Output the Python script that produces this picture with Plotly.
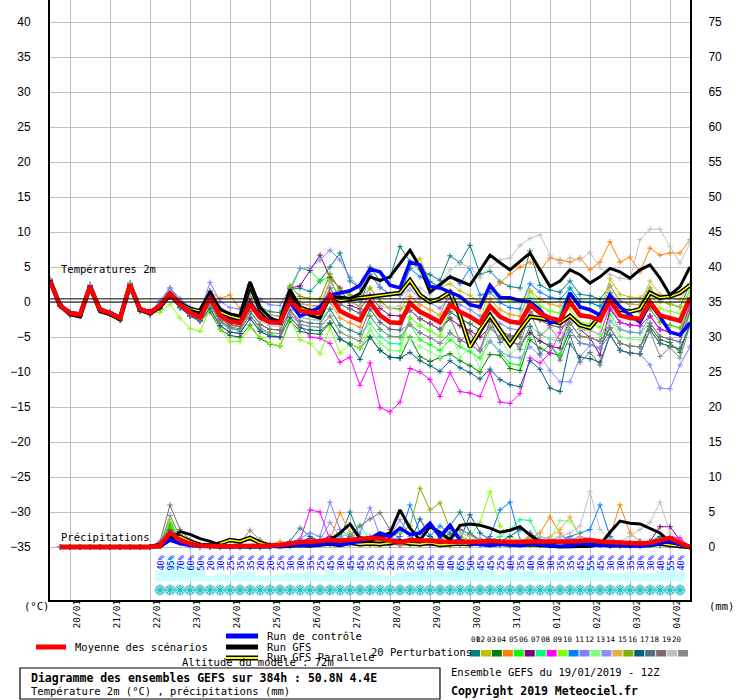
import plotly.graph_objects as go

# ---------------- data ----------------
HOURS = list(range(0, 385, 6))          # hours after 19/01/2019 12Z
DAY_HOURS = list(range(12, 373, 24))    # 00Z of each day
DAY_LABELS = ["20/01", "21/01", "22/01", "23/01", "24/01", "25/01", "26/01", "27/01",
              "28/01", "29/01", "30/01", "31/01", "01/02", "02/02", "03/02", "04/02"]

T_MEAN = [3.0,-0.5,-1.6,-1.8, 2.2,-1.1,-1.6,-2.3, 2.5,-1.0,-1.5,-0.5, 1.2,-0.3,-1.5,-2.2, 0.6,-1.9,-2.8,-3.0,
          -0.3,-2.2,-2.9,-3.0, 0.3,-1.2,-1.5,-1.6, 1.0,-1.3,-2.0,-2.6, 0.0,-1.9,-2.9,-3.0, -0.2,-1.4,-2.1,-2.9,
          -0.4,-1.4,-2.1,-3.0, -0.6,-2.1,-2.8,-3.0, -0.4,-1.6,-2.3,-2.6, 0.0,-1.9,-2.1,-2.6, 0.3,-1.9,-2.3,-2.4,
          0.0,-1.9,-2.3,-2.7, 0.6]
T_CTRL = [3.1,-0.4,-1.5,-1.7, 2.3,-1.0,-1.5,-2.2, 2.5,-1.0,-1.4,-0.6, 1.2,-0.2,-1.4,-2.1, 0.8,-1.8,-2.6,-2.9,
          0.0,-2.0,-2.7,-2.9, 0.0,-2.0,-1.5,-0.7, 1.0,1.3,1.6,2.4, 4.7,4.3,2.4,2.0, 5.7,5.3,2.2,2.0,
          1.4,0.8,-0.4,-0.7, 2.4,0.6,0.6,0.2, 0.0,-1.1,-3.0,-2.6, 1.3,-0.7,-1.1,-1.9, 1.0,-0.7,-1.9,-2.9,
          -0.2,-2.1,-4.3,-4.7, -3.0]
T_GFS = [3.0,-0.6,-1.8,-2.1, 2.1,-1.4,-1.8,-2.5, 2.4,-1.2,-1.3,-0.8, 1.0,-0.5,-1.2,-1.6, 1.5,-1.0,-1.7,-2.0,
         2.9,-0.8,-2.2,-3.0, 1.8,-1.1,-1.9,-2.3, 0.7,0.7,0.5,1.2, 3.6,3.1,3.6,5.5, 7.4,5.0,1.4,2.5,
         3.6,3.0,2.4,4.5, 6.7,5.6,4.6,5.8, 7.0,4.6,2.2,3.0, 4.6,3.9,2.7,3.6, 4.8,4.3,3.4,4.6,
         5.3,3.4,1.0,2.2, 5.0]
T_PARA = [3.1,-0.5,-1.7,-2.0, 2.2,-1.2,-1.7,-2.4, 2.4,-1.1,-1.6,-0.7, 1.1,-0.2,-1.0,-1.3, 1.2,-1.4,-2.0,-2.4,
          2.6,-1.0,-2.5,-2.9, 1.5,-0.8,-1.3,-1.2, 0.9,0.2,0.4,0.6, 0.8,0.9,1.1,1.3, 3.1,1.0,0.0,0.5,
          1.4,-2.0,-6.4,-4.0, -1.9,-4.0,-6.1,-4.0, -2.1,-2.3,-2.6,-3.0, -2.0,-3.3,-3.7,-2.0, 0.7,-1.1,-1.4,-1.0,
          1.3,0.6,0.8,1.3, 2.4]

T_P01 = [3.2,-0.3,-1.4,-1.7, 2.4,-1.0,-1.4,-2.2, 2.6,-1.0,-1.4,-0.2, 2.0,0.2,-1.0,-1.7, 1.6,-0.9,-1.8,-2.0,
         1.5,-0.7,-1.4,-1.5, 1.8,2.0,1.5,3.0, 5.0,7.0,3.0,2.0, 5.0,3.0,3.5,7.9, 5.8,4.6,3.9,3.1,
         6.6,5.6,8.1,4.0, 4.4,2.9,2.2,2.0, 7.3,2.4,1.7,1.4, 3.0,1.1,0.9,0.4, 2.3,0.1,-0.3,-0.4, 2.0,0.1,-0.3,-0.7, 2.6]
T_P02 = [3.1,-0.5,-1.7,-1.9, 2.1,-1.2,-1.7,-2.5, 2.3,-1.2,-1.6,-0.6, 1.1,-0.3,-1.6,-2.3, 1.1,-1.4,-2.3,-2.5,
         0.7,-1.2,-1.9,-2.0, 2.3,0.8,0.5,0.4, 4.0,1.7,1.0,0.4, 4.0,2.1,1.1,1.0, 4.8,6.2,2.9,2.1,
         2.6,1.6,0.9,0.0, 0.4,-1.1,-1.8,-2.0, 1.6,0.4,-0.3,-0.6, 1.0,-0.9,-1.1,-1.6, 3.3,1.1,0.7,0.6, 2.0,0.1,-0.3,-0.7, 1.6]
T_P03 = [3.0,-0.6,-1.8,-2.0, 2.2,-1.1,-1.6,-2.6, 2.4,-1.3,-1.8,-1.0, 0.7,-0.8,-2.0,-2.7, -1.4,-3.9,-4.8,-5.0,
         -3.3,-5.2,-6.0,-6.3, -2.7,-4.2,-4.5,-4.6, -3.0,-5.3,-6.0,-6.6, -5.0,-6.9,-7.9,-8.0, -5.0,-7.8,-8.5,-8.0,
         -7.4,-8.4,-9.1,-10.0, -7.5,-7.6,-9.5,-9.8, -5.4,-6.6,-7.3,-7.6, -4.0,-5.9,-6.1,-6.6, -3.7,-5.9,-6.3,-6.4,
         -3.5,-5.4,-5.8,-7.2, -3.0]
T_P04 = [3.3,-0.4,-1.5,-1.8, 2.5,-0.9,-1.5,-2.4, 2.7,-0.9,-1.5,-0.3, 1.7,0.2,-1.0,-1.7, 1.5,0.5,1.0,-1.0,
         0.7,-1.2,-1.9,-2.0, 0.3,-1.2,-1.5,-1.6, 0.0,-2.3,-3.0,-3.6, 0.0,-1.9,-2.9,-3.0, 0.8,-0.4,-1.1,-1.9,
         1.6,0.6,-0.1,-1.0, 1.5,2.7,4.0,5.0, 5.7,4.5,6.3,6.0, 5.7,6.3,4.6,5.7, 8.6,5.7,6.4,4.3, 7.7,6.7,7.0,7.0, 8.9]
T_P05 = [3.2,-0.3,-1.4,-1.7, 2.4,-1.0,-1.4,-2.2, 2.6,-1.0,-1.4,-0.4, 1.3,-0.2,-1.6,-2.0, -0.2,-2.8,-3.6,-4.2,
         -1.8,-3.9,-4.6,-5.0, 1.5,4.8,4.5,3.0, 3.6,-0.3,-1.0,-1.6, -2.0,-3.9,-4.9,-5.0, -3.2,-5.4,-6.1,-6.9,
         -5.4,-6.4,-7.1,-8.0, -5.6,-7.1,-8.8,-9.0, -4.4,-5.6,-6.3,-7.6, -3.0,-4.9,-5.1,-5.6, -1.7,-3.9,-4.3,-4.4,
         -2.0,-3.9,-4.3,-4.7, -1.4]
T_P06 = [3.1,-0.5,-1.7,-1.9, 2.1,-1.2,-1.7,-2.5, 2.3,-1.2,-1.6,-0.4, 1.5,0.0,-1.2,-1.9, 0.1,-2.4,-3.3,-3.5,
         0.2,-1.7,-2.4,-2.5, 2.0,2.3,4.5,6.7, 3.5,2.0,-0.5,-1.0, 1.0,-0.9,-1.9,-2.0, -1.2,-2.4,-3.1,-3.9,
         -2.4,-3.4,-4.1,-5.0, -3.6,-5.1,-5.8,-6.0, -4.4,-5.6,-6.3,-6.6, -2.0,-3.9,-5.1,-7.6, -1.0,-2.9,-3.3,-3.4,
         -2.0,-3.9,-4.3,-4.7, -0.4]
T_P07 = [3.3,-0.4,-1.5,-1.8, 2.5,-0.9,-1.5,-2.4, 2.7,-0.9,-1.5,-0.7, 0.7,-0.8,-2.0,-2.7, -0.4,-2.9,-3.8,-4.0,
         -0.3,-2.2,-2.9,-3.0, -0.7,-2.2,-2.5,-2.6, -1.0,-3.3,-4.0,-4.6, -3.0,-4.9,-5.9,-6.0, -2.2,-3.4,-4.1,-4.9,
         -1.4,-2.4,-3.1,-4.0, -0.6,-2.1,-2.8,-3.0, 0.6,-0.6,-1.3,-1.6, 2.0,0.1,-0.1,-0.6, 0.3,-1.9,-2.3,-2.4,
         -1.0,-2.9,-3.3,-3.7, -0.4]
T_P08 = [3.0,-0.6,-1.8,-2.0, 2.2,-1.1,-1.6,-2.6, 2.4,-1.3,-1.8,-0.8, 0.7,-0.8,-2.0,-2.7, -0.9,-3.4,-4.3,-4.5,
         -2.3,-4.2,-4.9,-5.0, -1.0,-3.3,-5.0,-5.2, -5.9,-8.6,-7.9,-11.9, -8.7,-15.1,-15.7,-14.3, -9.5,-10.0,-11.1,-13.5,
         -10.1,-12.8,-13.0,-13.5, -10.0,-14.3,-14.5,-13.1, -8.0,-8.7,-7.3,-4.4, -2.0,-3.9,-4.1,-4.6, -0.7,-2.9,-3.3,-3.4,
         -2.0,-3.9,-4.3,-4.7, -0.4]
T_P09 = [3.2,-0.3,-1.4,-1.7, 2.4,-1.0,-1.4,-2.2, 2.6,-1.0,-1.4,-1.5, -0.3,-2.3,-3.8,-4.2, -1.0,-3.9,-5.7,-5.6,
         -3.7,-5.0,-5.9,-6.3, -2.3,-5.4,-5.9,-7.4, -3.6,-7.3,-6.0,-6.6, -4.0,-5.9,-6.9,-7.0, -2.2,-3.4,-4.1,-4.9,
         -0.4,-1.4,-2.1,-3.0, 2.4,0.9,0.2,0.0, 1.6,-0.6,-1.3,-1.6, -1.0,-2.9,-3.1,-3.6, 0.3,-1.9,-2.3,-2.4,
         1.0,-0.9,-1.3,-1.7, 1.6]
T_P10 = [3.1,-0.5,-1.7,-1.9, 2.1,-1.2,-1.7,-2.5, 2.3,-1.2,-1.6,-0.3, 1.5,0.0,-1.2,-1.9, 1.1,-1.4,-2.3,-2.5,
         0.7,-1.2,-1.9,-2.0, 1.3,-0.2,-0.5,-0.6, 3.0,0.7,0.0,-0.6, 4.0,2.1,1.1,1.0, 4.8,3.6,2.9,2.1,
         3.6,2.6,4.8,1.0, 1.4,-0.1,-0.8,-1.0, 2.6,1.4,0.7,0.4, 2.0,0.1,-0.1,-0.6, 1.3,-0.9,-1.3,-1.4,
         0.0,-1.9,-2.3,-2.7, 0.6]
T_P11 = [3.3,-0.4,-1.5,-1.8, 2.5,-0.9,-1.5,-2.4, 2.7,-0.9,-1.5,0.2, 2.0,0.5,-0.7,-1.4, 2.8,0.1,-0.8,-1.0,
         2.2,0.3,-0.4,-0.5, 2.0,4.8,4.9,6.0, 7.4,6.0,3.5,2.0, 4.0,2.1,1.1,1.0, 1.8,0.6,-0.1,-0.9,
         0.6,-0.4,-1.1,-2.0, -1.6,-3.1,-3.8,-4.0, -3.4,-4.6,-5.3,-5.6, -4.0,-5.9,-6.1,-6.6, -4.7,-6.9,-7.3,-7.4,
         -9.0,-12.3,-12.4,-9.0, -6.4]
T_P12 = [3.0,-0.6,-1.8,-2.0, 2.2,-1.1,-1.6,-2.6, 2.4,-1.3,-1.8,-0.6, 1.2,-0.3,-1.5,-2.2, 0.1,-2.4,-3.3,-3.5,
         -1.3,-3.2,-3.9,-4.0, -1.7,-3.2,-3.5,-3.6, -2.0,-4.3,-5.0,-5.6, -4.0,-5.9,-6.9,-7.0, -5.2,-6.4,-7.1,-7.9,
         -4.0,-7.9,-6.5,-9.5, -3.8,-5.0,-7.5,-6.2, -3.4,-4.6,-5.3,-5.6, -2.0,-3.9,-4.1,-4.6, -2.7,-4.9,-5.3,-5.4,
         -4.0,-5.9,-6.3,-6.7, -2.4]
T_P13 = [3.2,-0.3,-1.4,-1.7, 2.4,-1.0,-1.4,-2.2, 2.6,-1.0,-1.4,-0.2, 1.7,0.2,-1.0,-1.7, 1.6,-0.9,-1.8,-2.0,
         -0.3,-2.2,-2.9,-3.0, 1.3,-0.2,-0.5,-0.6, 2.0,-0.3,-1.0,-1.6, -1.0,-2.9,-3.9,-4.0, -3.2,-4.4,-5.1,-5.9,
         -4.4,-5.4,-6.1,-7.0, -5.6,-7.1,-7.8,-8.0, -6.4,-7.6,-9.8,-11.4, -11.4,-7.9,-6.1,-6.6, -2.7,-3.9,-4.3,-4.4,
         -3.0,-4.9,-5.3,-5.7, -1.4]
T_P14 = [3.1,-0.5,-1.7,-1.9, 2.1,-1.2,-1.7,-2.5, 2.3,-1.2,-1.6,-0.5, 1.2,-0.3,-1.5,-2.2, 1.1,-1.4,-2.3,-2.5,
         0.7,-1.2,-1.9,-2.0, 1.3,-0.2,-0.5,-0.6, 3.0,0.7,0.0,-0.6, 2.0,0.1,-0.9,-1.0, 0.8,-0.4,-1.1,-1.9,
         -0.4,-1.4,-2.1,-3.0, 0.4,-1.1,-1.8,-2.0, 1.6,0.4,-0.3,-0.6, 1.0,-0.9,-1.1,-1.6, 2.3,0.1,-0.3,-0.4,
         3.0,1.1,0.7,0.3, 2.6]
T_P15 = [3.3,-0.4,-1.5,-1.8, 2.5,-0.9,-1.5,-2.4, 2.7,-0.9,-1.5,-0.8, 0.9,-0.6,-1.8,-2.5, 0.6,-1.9,-2.8,-3.0,
         0.2,-1.7,-2.4,-2.5, 2.3,0.8,0.5,0.4, 4.0,1.7,1.0,0.4, 2.0,0.1,-0.9,-1.0, -0.2,-1.4,-2.1,-2.9,
         -1.4,-2.4,-3.1,-4.0, -2.6,-4.1,-4.8,-5.0, -1.4,-2.6,-3.3,-3.6, 0.0,-1.9,-2.1,-2.6, 1.3,-0.9,-1.3,-1.4,
         -1.0,-2.9,-3.3,-3.7, -1.4]
T_P16 = [3.0,-0.6,-1.8,-2.0, 2.2,-1.1,-1.6,-2.6, 2.4,-1.3,-1.8,-0.9, 0.7,-0.8,-2.0,-2.7, -0.9,-3.4,-4.3,-4.5,
         -2.3,-4.2,-4.9,-5.0, -2.2,-3.7,-4.0,-4.1, -3.0,-5.3,-6.0,-8.2, -5.0,-6.9,-7.9,-8.0, -7.2,-8.4,-9.1,-9.9,
         -8.4,-9.4,-10.1,-11.0, -9.6,-11.1,-11.8,-12.1, -8.4,-9.6,-12.3,-12.8, -6.0,-7.9,-8.1,-8.6, -4.7,-6.9,-7.3,-7.4,
         -4.0,-5.9,-6.3,-6.7, -3.4]
T_P17 = [3.2,-0.3,-1.4,-1.7, 2.4,-1.0,-1.4,-2.2, 2.6,-1.0,-1.4,-0.5, 1.2,-0.3,-1.5,-2.2, 0.1,-2.4,-3.3,-3.5,
         -1.3,-3.2,-3.9,-4.0, -1.2,-2.7,-3.0,-3.1, -1.0,-3.3,-4.0,-4.6, -1.0,-2.9,-3.9,-4.0, -0.2,-1.4,-2.1,-2.9,
         -1.4,-2.4,-3.1,-4.0, -2.5,-5.8,-4.9,-6.8, -3.5,-7.4,-6.0,-8.3, -4.8,-8.6,-7.2,-9.0, -4.7,-6.9,-7.3,-7.4,
         -4.0,-5.9,-6.3,-6.7, -3.4]
T_P18 = [3.1,-0.5,-1.7,-1.9, 2.1,-1.2,-1.7,-2.5, 2.3,-1.2,-1.6,-0.7, 1.0,-0.5,-1.7,-2.4, -0.2,-2.7,-3.6,-3.8,
         -1.3,-3.2,-3.9,-4.0, 0.3,-1.2,-1.5,-1.6, 2.0,-0.3,-1.0,-1.6, 0.0,-1.9,-2.9,-3.0, -1.2,-2.4,-3.1,-3.9,
         -2.2,-5.6,-4.3,-6.8, -2.6,-4.1,-4.8,-5.0, -1.4,-2.6,-3.3,-3.6, -3.0,-4.9,-5.1,-5.6, -3.7,-5.9,-6.3,-6.4,
         -3.0,-4.9,-5.3,-5.7, -1.4]
T_P19 = [3.3,-0.4,-1.5,-1.8, 2.5,-0.9,-1.5,-2.4, 2.7,-0.9,-1.5,-0.3, 1.4,-0.1,-1.3,-2.0, 0.6,-1.9,-2.8,-3.0,
         -0.8,-2.7,-3.4,-3.5, -0.7,-2.2,-2.5,-2.6, 1.0,-1.3,-2.0,-2.6, 0.5,-0.5,-1.0,-0.5, 1.8,2.0,1.0,2.5,
         4.6,5.5,5.0,3.4, 5.0,6.0,6.3,8.1, 9.1,9.6,6.7,5.5, 6.3,6.0,7.1,4.9, 3.9,3.4,3.2,8.9,
         10.4,10.4,7.9,5.6, 8.4]
T_P20 = [3.0,-0.6,-1.8,-2.0, 2.2,-1.1,-1.6,-2.6, 2.4,-1.3,-1.8,-0.8, 0.9,-0.6,-1.8,-2.5, -0.4,-2.9,-3.8,-4.0,
         -1.8,-3.7,-4.4,-4.5, -1.7,-3.2,-3.5,-3.6, -2.0,-4.3,-5.0,-5.6, -2.0,-3.9,-4.9,-5.0, -3.2,-4.4,-5.1,-5.9,
         -4.4,-5.4,-6.1,-7.0, -3.6,-5.1,-5.8,-6.0, -1.5,-4.8,-3.6,-5.5, -3.0,-4.9,-5.1,-5.6, -3.7,-5.9,-6.3,-6.4,
         -4.2,-7.8,-6.5,-8.0, -3.4]

# precipitation (mm per 6 h), from 19/01 18Z onwards
P_MEAN = [0,0,0,0,0,0,0,0, 0,0,0.2,2.1,1.0,0.5,0.2,0.1, 0.1,0.1,0.1,0.1,0.1,0.2,0.3,0.5,
          0.7,0.7,0.8,1.0,0.9,1.0,1.2,1.3, 1.2,1.0,0.7,1.0,1.0,0.9,0.8,0.7, 0.8,0.7,0.8,0.9,0.8,0.7,0.7,0.8,
          0.8,0.7,0.7,0.8,0.9,1.0,0.8,0.7, 0.6,0.6,0.5,0.6,0.9,1.3,0.6,0.0]
P_CTRL = [0,0,0,0,0,0,0,0, 0,0,0.2,1.0,0.5,0.2,0.1,0, 0,0,0,0,0,0,0.1,0.2,
          0.3,0.2,0.3,0.5,0.3,0.5,0.8,1.2, 2.0,1.5,2.7,1.8,2.0,3.4,1.5,3.1, 1.0,0.5,0.3,0.2,0.4,0.3,0.2,0.5,
          0.3,0.2,0.1,0.2,0.5,0.3,0.2,0.3, 0.2,0.1,0.1,0.2,0.5,0.8,0.3,0]
P_GFS = [0,0,0,0,0,0,0,0, 0,0,0,1.0,2.2,1.8,1.2,0.8, 0.3,0.1,0,0,0,0,0.3,0.6,
         0.4,0.2,0.5,1.0,2.0,3.3,1.2,0.8, 1.5,2.0,5.3,2.7,1.0,2.9,2.1,1.0, 3.1,3.3,3.1,2.7,2.1,2.4,2.9,1.7,
         0.7,0.1,0,0,0,0.1,0.3,2.1, 3.7,3.4,3.3,2.7,2.0,0.7,0.3,0]
P_PARA = [0,0,0,0,0,0,0,0, 0,0,0.3,1.2,1.5,0.8,0.3,0.2, 0.5,1.0,0.8,1.3,0.6,0.2,0.1,0.2,
          0.3,0.2,0.4,0.5,0.3,0.6,0.4,0.5, 0.4,0.6,0.8,0.5,0.4,0.6,0.3,0.4, 0.5,0.4,0.6,0.3,0.5,0.4,0.3,0.4,
          0.3,0.2,0.4,0.3,0.2,0.3,0.4,0.2, 0.3,0.2,0.4,0.3,0.5,0.3,0.2,0]

P_P01 = [0,0,0,0,0,0,0,0, 0,0,0.3,1.5,0.8,0.3,0.1,0, 0,0,0,0,0,0.2,0.5,0.8, 2.7,1.5,0.8,1.0,1.2,5.0,1.5,0.8,
         0.5,0.3,0.8,1.0,0.6,1.2,0.8,3.0, 5.0,2.0,1.0,0.8,0.5,0.3,0.8,1.5, 1.0,0.5,0.3,0.2,0.5,0.8,0.3,0.2, 0.1,0.3,0.5,0.8,1.5,0.5,0.2,0]
P_P02 = [0,0,0,0,0,0,0,0, 0,0,0.2,2.5,1.2,0.5,0.2,0.1, 0,0.2,0.8,1.2,1.0,0.3,0.1,0, 0.2,0.5,0.3,0.8,0.5,0.6,0.4,0.3,
         0.5,1.0,0.8,0.5,0.3,0.6,0.5,0.2, 0.3,0.5,0.4,0.6,0.3,0.2,0.5,0.3, 0.2,0.4,0.3,0.5,0.3,0.2,0.5,0.3, 0.2,0.3,0.2,0.4,0.6,0.3,0.1,0]
P_P03 = [0,0,0,0,0,0,0,0, 0,0,0.4,3.0,1.0,0.4,0.2,0, 0,0,0,0,0.1,0.3,0.2,0.4, 0.6,0.8,0.5,0.4,0.6,0.8,0.5,1.0,
         0.8,0.5,0.3,0.6,0.4,0.5,0.3,0.2, 0.3,0.2,0.4,0.5,0.3,0.2,0.3,0.4, 0.5,0.3,0.2,0.4,0.3,0.5,0.4,0.2, 0.3,0.2,0.1,0.3,0.2,0.4,0.2,0]
P_P04 = [0,0,0,0,0,0,0,0, 0,0,0.2,1.8,0.8,0.3,0.1,0, 0,0,0,0,0,0.3,0.8,0.4, 0.2,0.5,0.3,1.0,4.9,2.0,0.8,0.5,
         0.3,0.5,0.2,0.3,0.4,0.8,0.5,0.3, 0.4,0.5,0.3,0.6,0.8,0.5,0.8,1.2, 2.0,4.3,2.0,0.8,0.5,0.3,0.8,1.5, 6.0,2.0,0.8,0.5,0.3,0.2,0.1,0]
P_P05 = [0,0,0,0,0,0,0,0, 0,0,0.5,3.5,1.5,0.6,0.2,0, 0,0,0,0,0,0,0.1,0.2, 0.5,0.8,0.5,0.3,0.6,0.4,0.5,0.8,
         0.6,0.8,0.5,0.3,0.6,0.4,0.2,0.3, 0.5,0.4,0.6,0.8,0.5,0.4,0.3,0.2, 0.3,0.5,0.3,0.2,0.4,0.3,0.2,0.3, 0.2,0.3,0.4,0.2,1.0,0.8,0.3,0]
P_P06 = [0,0,0,0,0,0,0,0, 0,0,0.2,1.2,0.6,0.2,0,0, 0,0,0,0,0.1,0.2,0.3,0.5, 0.8,1.2,1.0,1.5,0.8,0.5,0.6,0.8,
         0.5,0.3,0.6,0.8,0.5,0.3,0.4,0.6, 0.4,0.3,0.5,0.6,0.4,0.3,0.5,0.4, 0.3,0.2,0.4,0.3,0.5,0.4,0.3,0.2, 0.3,0.2,0.4,0.8,2.9,2.9,1.0,0]
P_P07 = [0,0,0,0,0,0,0,0, 0,0,0.3,2.8,1.0,0.4,0.1,0, 0,0,0,0,0,0.1,0.2,0.3, 0.5,0.6,0.8,1.0,1.5,1.8,3.1,1.0,
         0.4,0.5,0.3,0.6,0.5,0.8,0.4,0.3, 0.5,0.6,0.8,1.0,1.5,2.5,3.9,3.8, 1.0,0.3,0.5,0.4,0.3,0.5,0.6,0.3, 0.2,0.4,0.3,0.5,0.8,1.2,0.5,0]
P_P08 = [0,0,0,0,0,0,0,0, 0,0,0.2,1.5,0.6,0.2,0.1,0, 0,0,0,0,0,0.1,0.3,0.5, 1.0,5.3,5.0,1.0,0.6,0.8,0.5,0.4,
         0.6,0.4,0.3,0.5,0.4,0.3,0.6,0.5, 0.3,0.4,0.5,0.3,0.4,0.5,0.3,0.4, 0.5,0.3,0.2,0.4,0.3,0.5,0.4,0.3, 0.4,0.3,0.5,0.8,1.0,1.5,1.3,0]
P_P09 = [0,0,0,0,0,0,0,0, 0,0,0.6,3.9,1.8,0.8,0.3,0.1, 0,0,0,0,0,0,0.1,0.2, 0.3,0.4,0.5,0.3,0.5,0.6,0.4,0.5,
         0.3,0.5,0.8,1.2,0.8,0.5,1.0,1.5, 2.0,1.5,3.5,7.9,3.0,1.5,0.8,0.5, 0.3,0.5,0.4,0.3,0.2,0.4,0.3,0.5, 0.3,0.2,0.4,0.3,0.5,0.4,0.2,0]
P_P10 = [0,0,0,0,0,0,0,0, 0,0,0.3,2.0,0.8,0.3,0.1,0, 0,0,0,0,0,0.1,0.2,0.4, 0.5,0.4,0.6,0.8,0.5,1.0,0.8,1.5,
         1.0,0.8,1.5,6.0,2.0,1.5,3.0,2.0, 1.0,0.8,0.5,1.5,5.3,6.4,1.0,0.5, 0.3,0.5,0.8,1.5,2.0,2.5,6.0,1.5, 0.3,0.2,0.5,0.3,0.4,0.2,0.1,0]
P_P11 = [0,0,0,0,0,0,0,0, 0,0,0.2,1.8,0.8,0.3,0.1,0, 0,0,0,0,0,0.1,0.2,0.6, 1.2,2.0,1.5,6.4,2.5,1.5,2.0,5.6,
         1.5,1.5,0.8,0.5,1.0,0.8,0.6,0.4, 0.5,0.3,0.6,0.4,0.8,0.5,0.3,0.6, 1.0,0.8,1.5,1.2,0.6,0.4,0.3,0.5, 0.4,0.3,0.2,0.5,0.6,0.8,0.3,0]
P_P12 = [0,0,0,0,0,0,0,0, 0,0,0.3,2.2,1.0,0.4,0.1,0, 0,0,0,0,0,0,0.1,0.2, 0.3,0.4,0.3,0.5,0.4,0.6,0.5,0.4,
         0.6,0.5,0.4,0.3,0.5,0.8,0.5,0.4, 0.3,0.5,0.8,1.0,0.6,0.5,0.8,0.5, 0.6,1.0,3.8,3.7,1.5,0.8,0.5,0.4, 0.3,0.4,0.5,0.3,0.6,0.5,0.2,0]
P_P13 = [0,0,0,0,0,0,0,0, 0,0,0.2,1.6,0.7,0.3,0.1,0, 0,0,0,0,0.2,0.3,0.5,0.4, 0.5,0.8,1.0,3.5,1.5,0.8,1.2,1.0,
         0.8,1.5,3.9,1.5,0.8,0.5,0.3,0.6, 0.8,1.0,1.2,0.8,0.5,0.6,0.8,1.0, 1.5,1.2,0.8,1.0,1.5,1.2,0.8,0.6, 0.5,0.4,0.3,0.5,0.8,1.0,0.5,0]
P_P14 = [0,0,0,0,0,0,0,0, 0,0,0.2,1.4,0.6,0.3,0.1,0, 0,0,0,0,0,0.2,0.4,0.3, 0.4,0.5,0.6,0.8,0.5,0.4,0.6,0.5,
         0.3,0.4,0.6,0.8,1.0,0.6,0.4,0.5, 0.4,0.6,0.5,0.8,0.6,0.5,0.8,1.5, 0.8,1.5,2.5,4.3,1.5,0.8,0.5,0.3, 0.4,0.5,0.6,0.8,1.0,0.8,0.4,0]
P_P15 = [0,0,0,0,0,0,0,0, 0,0,0.4,3.2,1.2,0.5,0.2,0, 0,0,0,0,0,0.1,0.2,0.3, 0.3,0.5,0.4,0.6,0.8,1.0,0.6,0.5,
         0.8,1.5,2.0,3.0,8.4,5.3,6.3,2.5, 1.5,1.0,0.8,0.6,0.5,0.4,0.6,0.5, 0.4,0.3,0.5,0.6,0.4,0.3,0.5,0.4, 0.3,0.4,0.3,0.5,0.4,0.3,0.2,0]
P_P16 = [0,0,0,0,0,0,0,0, 0,0,0.3,2.4,1.0,0.4,0.2,0, 0,0,0,0,0,0,0.2,0.3, 0.5,0.6,0.8,0.5,0.6,0.8,0.5,0.6,
         0.4,0.5,0.8,0.6,4.0,1.5,0.8,1.0, 1.0,4.6,2.0,1.0,0.8,1.5,2.5,2.0, 1.0,0.6,0.5,0.4,0.6,0.5,0.3,0.4, 0.5,0.6,0.8,0.5,1.0,0.6,0.3,0]
P_P17 = [0,0,0,0,0,0,0,0, 0,0,0.3,2.0,0.8,0.3,0.1,0, 0,0,0,0,0,0,0.1,0.2, 0.4,0.3,0.5,0.6,0.4,0.5,0.6,0.4,
         0.5,0.6,0.4,0.5,0.6,0.8,1.2,1.8, 2.5,1.8,1.0,0.6,0.8,0.5,0.6,0.4, 0.5,0.3,0.4,0.5,0.3,0.4,0.3,0.5, 0.4,0.3,0.5,0.4,0.6,0.8,0.4,0]
P_P18 = [0,0,0,0,0,0,0,0, 0,0,0.8,6.0,2.5,1.0,0.3,0.1, 0,0,0,0,0,0.1,0.2,0.3, 0.4,0.5,0.3,0.6,0.8,1.5,3.0,4.0,
         4.9,2.5,1.0,0.6,0.4,0.5,0.3,0.4, 0.5,0.3,0.4,0.6,0.5,0.3,0.4,0.5, 0.3,0.4,0.5,0.3,0.4,0.6,0.5,0.3, 0.4,0.6,0.8,0.5,0.4,0.3,0.2,0]
P_P19 = [0,0,0,0,0,0,0,0, 0,0,0.2,1.0,0.5,0.2,0.1,0, 0,0,0,0,0,0,0.1,0.2, 0.3,0.4,0.5,0.6,0.8,0.5,0.6,0.8,
         1.0,0.8,0.5,0.6,0.8,1.0,1.5,1.0, 2.0,1.5,1.0,0.8,0.6,0.5,0.8,1.0, 1.5,1.0,1.5,2.0,3.0,7.9,2.5,1.0, 0.8,1.5,2.5,3.5,6.4,2.0,0.8,0]
P_P20 = [0,0,0,0,0,0,0,0, 0,0,0.3,4.5,1.5,0.5,0.2,0, 0,0,0.5,2.4,1.0,0.3,0.2,0.3, 0.3,0.4,0.5,0.6,0.5,0.4,0.6,0.8,
         0.6,0.5,0.4,0.6,0.5,0.8,0.6,0.5, 0.4,0.5,0.3,0.6,0.8,0.5,0.4,0.3, 0.5,0.4,0.3,0.5,0.6,0.4,0.3,0.5, 0.4,0.3,0.6,0.5,0.4,0.3,0.2,0]

# probability labels (%) for 22/01 06Z .. 04/02 06Z
SNOW_PCT = [40,95,70,60,50,20,30,25,35,35,20,20,25,30,30,35,25,45,30,45,45,35,25,20,30,35,45,
            35,40,40,65,50,45,45,25,40,35,40,30,30,35,35,45,55,45,30,30,35,30,30,40,55,40]

PERT_COLORS = ["#008080", "#c0c000", "#008000", "#ff8000", "#00ff00", "#800080", "#00ff80",
               "#ff00ff", "#80ff00", "#0080ff", "#8080ff", "#80ff80", "#8c8cff", "#e0b040",
               "#80b000", "#006080", "#507080", "#806870", "#c0c0c0", "#888888"]
PERT_NUMS = ["01", "02", "03", "04", "05", "06", "07", "08", "09", "10",
             "11", "12", "13", "14", "15", "16", "17", "18", "19", "20"]

T_PERTS = [T_P01, T_P02, T_P03, T_P04, T_P05, T_P06, T_P07, T_P08, T_P09, T_P10,
           T_P11, T_P12, T_P13, T_P14, T_P15, T_P16, T_P17, T_P18, T_P19, T_P20]
P_PERTS = [P_P01, P_P02, P_P03, P_P04, P_P05, P_P06, P_P07, P_P08, P_P09, P_P10,
           P_P11, P_P12, P_P13, P_P14, P_P15, P_P16, P_P17, P_P18, P_P19, P_P20]

# ---------------- layout helpers (pixels -> paper) ----------------
W, H = 740, 700
PL, PR, PT, PB = 50, 690, 0, 600


def px(x):
    return (x - PL) / (PR - PL)


def py(y):
    return (PB - y) / (PB - PT)


MONO = "DejaVu Sans Mono"
SANS = "Liberation Sans"

fig = go.Figure()
P_HOURS = HOURS[1:]

# perturbations
for vals, col in zip(T_PERTS, PERT_COLORS):
    fig.add_trace(go.Scatter(x=HOURS, y=vals, mode="lines+markers", yaxis="y",
                             line=dict(color=col, width=1),
                             marker=dict(symbol="cross-thin", size=4, line=dict(color=col, width=1)),
                             hoverinfo="skip", showlegend=False))
for vals, col in zip(P_PERTS, PERT_COLORS):
    fig.add_trace(go.Scatter(x=P_HOURS, y=vals, mode="lines+markers", yaxis="y2",
                             line=dict(color=col, width=1),
                             marker=dict(symbol="cross-thin", size=4, line=dict(color=col, width=1)),
                             hoverinfo="skip", showlegend=False))

# main runs (temperature then precipitation)
for xs, ys, ax in [(HOURS, T_PARA, "y"), (P_HOURS, P_PARA, "y2")]:
    fig.add_trace(go.Scatter(x=xs, y=ys, mode="lines", yaxis=ax,
                             line=dict(color="black", width=4.5), hoverinfo="skip", showlegend=False))
    fig.add_trace(go.Scatter(x=xs, y=ys, mode="lines", yaxis=ax,
                             line=dict(color="#ffff00", width=1.5), hoverinfo="skip", showlegend=False))
for xs, ys, ax in [(HOURS, T_GFS, "y"), (P_HOURS, P_GFS, "y2")]:
    fig.add_trace(go.Scatter(x=xs, y=ys, mode="lines", yaxis=ax,
                             line=dict(color="black", width=3), hoverinfo="skip", showlegend=False))
for xs, ys, ax in [(HOURS, T_CTRL, "y"), (P_HOURS, P_CTRL, "y2")]:
    fig.add_trace(go.Scatter(x=xs, y=ys, mode="lines", yaxis=ax,
                             line=dict(color="#0000ff", width=3.5), hoverinfo="skip", showlegend=False))
for xs, ys, ax in [(HOURS, T_MEAN, "y"), (P_HOURS, P_MEAN, "y2")]:
    fig.add_trace(go.Scatter(x=xs, y=ys, mode="lines", yaxis=ax,
                             line=dict(color="#ff0000", width=4.5), hoverinfo="skip", showlegend=False))

# probability band
PCT_HOURS = HOURS[11:64]
fig.add_trace(go.Bar(x=PCT_HOURS, y=SNOW_PCT, yaxis="y3", width=6,
                     marker=dict(color="#ccffff", line=dict(width=0)),
                     hoverinfo="skip", showlegend=False))
SNOW_ROW = [-35] * len(PCT_HOURS)
fig.add_trace(go.Scatter(x=PCT_HOURS, y=SNOW_ROW, yaxis="y3", mode="markers",
                         marker=dict(symbol="circle", size=10, color="#a8dcf8",
                                     line=dict(color="#7cc4f0", width=1)),
                         hoverinfo="skip", showlegend=False, cliponaxis=False))
fig.add_trace(go.Scatter(x=PCT_HOURS, y=SNOW_ROW, yaxis="y3", mode="markers",
                         marker=dict(symbol="asterisk-open", size=8,
                                     line=dict(color="#3a9ae0", width=1)),
                         hoverinfo="skip", showlegend=False, cliponaxis=False))

annotations = []
shapes = []

for h, p in zip(PCT_HOURS, SNOW_PCT):
    annotations.append(dict(x=h, y=py(573), xref="x", yref="paper", text=f"{p}%",
                            textangle=-90, showarrow=False,
                            font=dict(family=MONO, size=8.5, color="#0000ff")))

for h, lab in zip(DAY_HOURS, DAY_LABELS):
    annotations.append(dict(x=h, y=py(599), xref="x", yref="paper", text=lab, xshift=6,
                            textangle=-90, showarrow=False, yanchor="top", borderpad=0,
                            font=dict(family=MONO, size=9.5, color="black")))

# 0 degree double line
for yv in (0.0, 0.45):
    shapes.append(dict(type="line", xref="paper", yref="y", x0=0, x1=1, y0=yv, y1=yv,
                       line=dict(color="black", width=1), layer="above"))


def txt(x, y, s, size=10.5, bold=False, anchor="left"):
    annotations.append(dict(x=px(x), y=py(y), xref="paper", yref="paper",
                            text=f"<b>{s}</b>" if bold else s, showarrow=False,
                            xanchor=anchor, yanchor="middle",
                            font=dict(family=MONO, size=size, color="black")))


def seg(x0, x1, y, color, width):
    shapes.append(dict(type="line", xref="paper", yref="paper", x0=px(x0), x1=px(x1),
                       y0=py(y), y1=py(y), line=dict(color=color, width=width)))


txt(59, 269, "Températures 2m")
txt(59, 537, "Précipitations")
txt(22, 606, "(°C)")
txt(707, 606, "(mm)")

# legend
seg(36, 66, 647, "#ff0000", 5)
txt(73, 647, "Moyenne des scénarios")
seg(226, 258, 636, "#0000ff", 5)
txt(265, 636, "Run de contrôle")
seg(226, 258, 647, "black", 5)
txt(265, 647, "Run GFS")
seg(226, 258, 658, "black", 5)
seg(226, 258, 658, "#ffff00", 2)
txt(265, 657, "Run GFS Parallele")
txt(180, 662, "Altitude du modèle : 72m")
txt(369, 652, "20 Perturbations")

for k, (col, num) in enumerate(zip(PERT_COLORS, PERT_NUMS)):
    x0 = 470 + k * 10.95
    shapes.append(dict(type="rect", xref="paper", yref="paper", x0=px(x0), x1=px(x0 + 10),
                       y0=py(656.5), y1=py(650), fillcolor=col, line=dict(width=0)))
    annotations.append(dict(x=px(x0 + 5), y=py(645), xref="paper", yref="paper", text=num,
                            showarrow=False, borderpad=0,
                            font=dict(family=MONO, size=7.5, color="black")))

shapes.append(dict(type="rect", xref="paper", yref="paper", x0=px(20), x1=px(440),
                   y0=py(699), y1=py(668), line=dict(color="black", width=1.2)))
txt(29, 678, "Diagramme des ensembles GEFS sur 384h : 50.8N 4.4E", size=11.5, bold=True)
txt(29, 691, "Température 2m (°C) , précipitations (mm)")
txt(449, 672, "Ensemble GEFS du 19/01/2019 - 12Z")
txt(449, 691, "Copyright 2019 Meteociel.fr", size=11.5, bold=True)

fig.update_layout(
    width=W, height=H, autosize=False,
    margin=dict(l=PL, r=W - PR, t=PT, b=H - PB, pad=0),
    paper_bgcolor="white", plot_bgcolor="rgba(0,0,0,0)",
    showlegend=False, barmode="overlay",
    xaxis=dict(range=[0, 384], tickvals=DAY_HOURS, showticklabels=False, ticks="",
               showgrid=True, gridcolor="#c0c0c0", gridwidth=1, zeroline=False,
               showline=True, linecolor="black", linewidth=1.5, mirror=False, fixedrange=True),
    yaxis=dict(range=[-42.571, 43.143], tickvals=list(range(-35, 41, 5)),
               showgrid=True, gridcolor="#c0c0c0", gridwidth=1, zeroline=False,
               showline=True, linecolor="black", linewidth=2,
               ticks="outside", ticklen=15, tickcolor="rgba(0,0,0,0)",
               tickfont=dict(family=SANS, size=12, color="black")),
    yaxis2=dict(range=[-7.571, 78.143], tickvals=list(range(0, 76, 5)), overlaying="y",
                side="right", showgrid=False, zeroline=False,
                showline=True, linecolor="black", linewidth=2,
                ticks="outside", ticklen=14, tickcolor="rgba(0,0,0,0)",
                tickfont=dict(family=SANS, size=12, color="black")),
    yaxis3=dict(domain=[py(597), py(555.3)], range=[-62.26, 100], visible=False,
                anchor="x", fixedrange=True),
    annotations=annotations, shapes=shapes,
)

fig.write_html("out.html", config={"displayModeBar": False, "responsive": False},
               post_script="document.body.style.margin='0';")
